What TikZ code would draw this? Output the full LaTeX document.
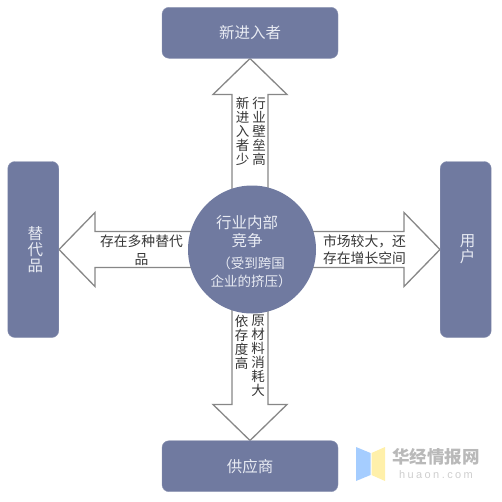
\documentclass[tikz,border=0pt]{standalone}
\usepackage{fontspec}
\setmainfont{Noto Sans CJK SC}
\newfontfamily\wmlatin[LetterSpace=22]{Liberation Sans}
\usetikzlibrary{positioning,calc,backgrounds}
\definecolor{slate}{RGB}{112,122,160}
\definecolor{edge}{RGB}{135,135,135}
\definecolor{ink}{RGB}{55,55,55}
\definecolor{pale}{RGB}{232,235,243}
\definecolor{wmgray}{RGB}{185,185,185}
\definecolor{wmblue}{RGB}{165,205,255}
\definecolor{wmyellow}{RGB}{255,240,170}
\newcommand\nudge{\hspace*{4pt}}
\begin{document}
\begin{tikzpicture}[x=1pt,y=1pt,inner sep=0pt,
  wide/.style={draw=slate!80!white,fill=slate,rounded corners=7pt,minimum width=176pt,minimum height=51pt,
            text=pale,font=\fontsize{15.5}{18}\selectfont},
  tall/.style={wide,minimum width=51pt,minimum height=176pt,align=center,
            font=\fontsize{15.5}{16}\selectfont},
  lab/.style={text=ink,align=center,font=\fontsize{13.5}{14}\selectfont},
  hlab/.style={lab,font=\fontsize{13.8}{17.5}\selectfont},
  big/.style={draw=edge,line width=1.3pt,fill=white,miter limit=10,to path={
     ($(\tikztostart)!18pt!90:(\tikztotarget)$) --
     ($($(\tikztotarget)!36pt!(\tikztostart)$)!18pt!-90:(\tikztostart)$) --
     ($($(\tikztotarget)!36pt!(\tikztostart)$)!37pt!-90:(\tikztostart)$) --
     (\tikztotarget) --
     ($($(\tikztotarget)!36pt!(\tikztostart)$)!37pt!90:(\tikztostart)$) --
     ($($(\tikztotarget)!36pt!(\tikztostart)$)!18pt!90:(\tikztostart)$) --
     ($(\tikztostart)!18pt!-90:(\tikztotarget)$) -- cycle}}]
 \useasboundingbox (-250,-251.5) rectangle (252,249.5);
 \coordinate (hub) at (0,0);
 \node[fill=slate,circle,minimum size=128pt] (core) at (2,0) {};
 \node[wide,above=191pt of hub,anchor=south] (new) {新进入者};
 \node[wide,below=191pt of hub,anchor=north] (sup) {供应商};
 \node[tall,left=191pt of hub,anchor=east] (sub) {\nudge 替\\\nudge 代\\\nudge 品};
 \node[tall,right=190pt of hub,anchor=west] (user) {\nudge 用\\\nudge 户};
 \begin{scope}[on background layer]
  \draw[big] (hub) to (new.south);
  \draw[big] (hub) to (sup.north);
  \draw[big] (hub) to (sub.east);
  \draw[big] (hub) to (user.west);
 \end{scope}
 \node[align=center,text=pale,font=\fontsize{15.5}{18}\selectfont] (core1) at (-3,17.5) {行业内部\\竞争};
 \node[align=center,text=pale,font=\fontsize{13.5}{18}\selectfont] (core2) at (1,-22.5) {（受到跨国\\企业的挤压）};
 \node[lab,anchor=north] (lnew) at (-7.5,153) {新\\进\\入\\者\\少};
 \node[lab,anchor=north] (lwall) at (9,153) {行\\业\\壁\\垒\\高};
 \node[lab,anchor=north] (ldep) at (-8.5,-65) {依\\存\\度\\高};
 \node[lab,anchor=north] (lraw) at (8,-65) {原\\材\\料\\消\\耗\\大};
 \node[hlab] (lsub) at (-108.5,-0.5) {存在多种替代\\品};
 \node[hlab] (luser) at (114.5,0) {市场较大，还\\存在增长空间};
 % watermark
 \fill[wmblue] (106,-197.5) coordinate (wa) -- (120.5,-203.5) -- (120.5,-225.5) -- (106,-231.5) -- cycle;
 \fill[wmyellow] (135,-197.5) -- (121.5,-203.5) -- (121.5,-225.5) -- (135,-231.5) -- cycle;
 \node[text=wmgray,font=\fontsize{17.5}{18}\bfseries\selectfont] (wm1) at (186,-207.5) {华经情报网};
 \node[text=wmgray!70!white,font=\fontsize{11}{12}\wmlatin] (wm2) at (186,-225.5) {huaon.com};
\end{tikzpicture}
\end{document}
